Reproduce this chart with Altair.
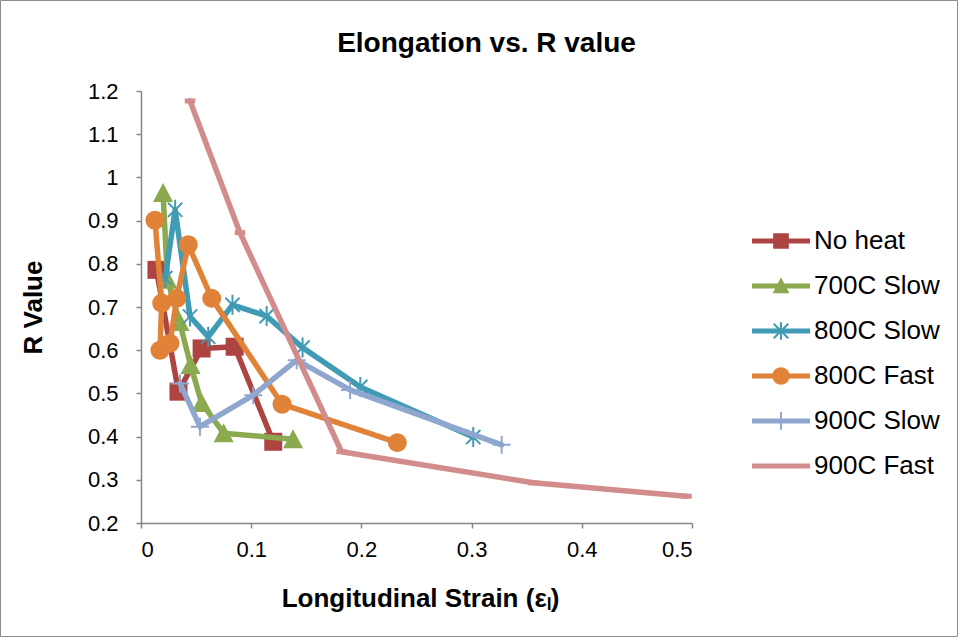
import altair as alt
import pandas as pd

# ---------------- data ----------------
series_names = ["No heat", "700C Slow", "800C Slow", "800C Fast", "900C Slow", "900C Fast"]

nh_x = [0.014, 0.034, 0.055, 0.085, 0.120]
nh_y = [0.786, 0.504, 0.604, 0.608, 0.388]

s700_x = [0.020, 0.024, 0.035, 0.045, 0.055, 0.075, 0.138]
s700_y = [0.964, 0.763, 0.665, 0.566, 0.478, 0.408, 0.394]

s800_x = [0.022, 0.031, 0.0445, 0.061, 0.083, 0.114, 0.1466, 0.199, 0.3015]
s800_y = [0.767, 0.925, 0.678, 0.631, 0.705, 0.679, 0.606, 0.515, 0.399]

f800_x = [0.0127, 0.0188, 0.0172, 0.0263, 0.0324, 0.0429, 0.0642, 0.128, 0.2326]
f800_y = [0.901, 0.709, 0.600, 0.616, 0.720, 0.844, 0.720, 0.475, 0.386]

s900_x = [0.0354, 0.0535, 0.1019, 0.1413, 0.1897, 0.3273]
s900_y = [0.523, 0.423, 0.496, 0.577, 0.508, 0.381]

f900_x = [0.0445, 0.0898, 0.182, 0.356, 0.495]
f900_y = [1.177, 0.872, 0.365, 0.293, 0.262]

x_ticks = [0, 0.1, 0.2, 0.3, 0.4, 0.5]
y_ticks = [0.2, 0.3, 0.4, 0.5, 0.6, 0.7, 0.8, 0.9, 1.0, 1.1, 1.2]

all_x = [nh_x, s700_x, s800_x, f800_x, s900_x, f900_x]
all_y = [nh_y, s700_y, s800_y, f800_y, s900_y, f900_y]

rows = []
for name, xs, ys in zip(series_names, all_x, all_y):
    for i, (xv, yv) in enumerate(zip(xs, ys)):
        rows.append({"series": name, "idx": i, "strain": xv, "r": yv})
df = pd.DataFrame(rows)

# ---------------- styling ----------------
FONT = "Liberation Sans"
colors = ["#AD4441", "#8BA94F", "#419BB4", "#E08238", "#8FA7CE", "#D28C8C"]

STAR = "M0,-1L0,1M-0.71,-0.71L0.71,0.71M-0.71,0.71L0.71,-0.71"
PLUS = "M-1,0L1,0M0,-1L0,1"
DASH = "M-1,0L1,0"
TRI = "M0,-1L1,0.9L-1,0.9Z"

markers = [
    dict(shape="square", filled=True, size=324),
    dict(shape=TRI, filled=True, size=400),
    dict(shape=STAR, filled=False, size=400, strokeWidth=2),
    dict(shape="circle", filled=True, size=361),
    dict(shape=PLUS, filled=False, size=324, strokeWidth=2),
    dict(shape=DASH, filled=False, size=110, strokeWidth=5),
]

# legend symbols: line + marker drawn as filled paths (unit = 29 px)
LINE = "M-1,-0.085H1V0.085H-1Z"
legend_paths = [
    LINE + "M-0.27,-0.27H0.27V0.27H-0.27Z",
    LINE + "M0,-0.3L0.29,0.25L-0.29,0.25Z",
    LINE + "M-0.035,-0.3H0.035V0.3H-0.035Z"
    + "M-0.225,-0.275L0.275,0.225L0.225,0.275L-0.275,-0.225Z"
    + "M0.275,-0.225L-0.225,0.275L-0.275,0.225L0.225,-0.275Z",
    LINE + "M-0.3,0A0.3,0.3 0 1,1 0.3,0A0.3,0.3 0 1,1 -0.3,0Z",
    LINE + "M-0.035,-0.3H0.035V0.3H-0.035Z",
    LINE,
]

x_scale = alt.Scale(domain=[0, 0.5], nice=False, zero=False)
x_axis = alt.Axis(
    values=x_ticks, format="~g", title="Longitudinal Strain (εₗ)",
    titleX=279, titleY=75, titleBaseline="middle", titleAlign="center",
)
x_enc = alt.X("strain:Q", scale=x_scale, axis=x_axis)
y_enc = alt.Y(
    "r:Q",
    scale=alt.Scale(domain=[0.2, 1.2], nice=False, zero=False),
    axis=alt.Axis(
        values=y_ticks, format="~g", title="R Value",
        titleX=-108, titleY=216, titleAngle=270, titleBaseline="middle", titleAlign="center",
    ),
)

# chart-area frame (decoration around the whole figure)
frame = alt.Chart(pd.DataFrame({"a": [0]})).mark_rect(
    fill=None, stroke="#8C8C8C", strokeWidth=1
).encode(
    x=alt.value(-140.5), x2=alt.value(816.5), y=alt.value(-90.5), y2=alt.value(545.5)
)

layers = [frame]
for i, name in enumerate(series_names):
    d = df[df["series"] == name]
    layers.append(
        alt.Chart(d).mark_line(color=colors[i], strokeWidth=5.5, strokeJoin="round", strokeCap="round")
        .encode(x=x_enc, y=y_enc, order="idx:Q")
    )
    layers.append(
        alt.Chart(d).mark_point(color=colors[i], opacity=1, **markers[i]).encode(x=x_enc, y=y_enc)
    )

# legend-only layer: its points are shifted far outside the x domain and clipped away
first_pts = df[df["idx"] == 0]
legend_layer = (
    alt.Chart(first_pts)
    .transform_calculate(off="datum.strain + 10")
    .mark_point(filled=True, clip=True, opacity=1)
    .encode(
        x=alt.X("off:Q", scale=x_scale, axis=x_axis),
        y=y_enc,
        color=alt.Color(
            "series:N",
            scale=alt.Scale(domain=series_names, range=colors),
            legend=alt.Legend(
                title=None, orient="none", legendX=611, legendY=121, direction="vertical",
                symbolSize=3364, symbolOpacity=1, symbolStrokeWidth=0,
                labelFontSize=26, labelFont=FONT, labelColor="black", labelOffset=4,
                rowPadding=3,
            ),
        ),
        shape=alt.Shape("series:N", scale=alt.Scale(domain=series_names, range=legend_paths)),
    )
)

chart = (
    alt.layer(*layers, legend_layer)
    .properties(
        width=551,
        height=432,
        padding={"left": 141, "top": 91, "right": 269, "bottom": 118},
        autosize=alt.AutoSizeParams(type="none"),
        background="white",
        title=alt.TitleParams(
            "Elongation vs. R value", font=FONT, fontSize=28, fontWeight="bold",
            color="black", anchor="middle", dx=70, dy=80, offset=22,
        ),
    )
    .configure_view(stroke=None)
    .configure_axis(
        grid=False,
        domainColor="#868686",
        domainWidth=1.5,
        tickColor="#868686",
        tickSize=5,
        tickWidth=1.5,
        labelFont=FONT,
        labelFontSize=22,
        labelColor="black",
        titleFont=FONT,
        titleFontSize=26,
        titleFontWeight="bold",
        titleColor="black",
    )
    .configure_axisY(labelPadding=18)
    .configure_axisX(labelPadding=11)
)

chart.save("out.html", embed_options={"renderer": "svg", "actions": False})
